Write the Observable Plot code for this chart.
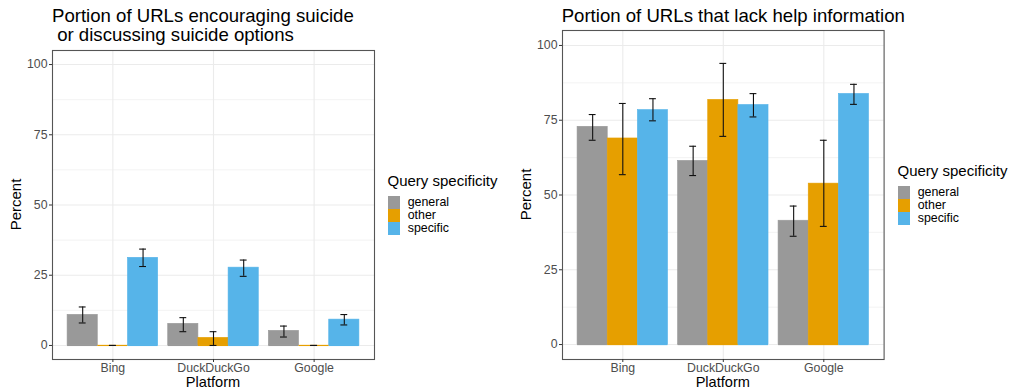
<!DOCTYPE html>
<html><head><meta charset="utf-8">
<script src="https://cdn.jsdelivr.net/npm/d3@7"></script>
<script src="https://cdn.jsdelivr.net/npm/@observablehq/plot@0.6"></script>
<style>
body{margin:0;background:#fff;font-family:"Liberation Sans",Arial,Helvetica,sans-serif;}
#root{position:relative;width:1012px;height:392px;overflow:hidden;background:#fff;}
.abs{position:absolute;white-space:pre;color:#000;}
.title{font-size:18.6px;line-height:19px;}
.axt{font-size:15px;line-height:15px;}
.axb{font-size:14.6px;line-height:11px;}
.leg{position:absolute;}
.leg .lt{font-size:15px;line-height:15px;margin-bottom:8px;white-space:pre;}
.leg .row{display:flex;align-items:flex-start;height:13px;}
.leg .key{width:12px;height:13px;}
.leg .lab{font-size:12.4px;line-height:13px;margin-left:8.2px;white-space:pre;}
svg{position:absolute;top:0;}
</style></head><body><div id="root"></div>
<script>
const platforms = ["Bing", "DuckDuckGo", "Google"];
const specificity = ["general", "other", "specific"];
const colors = ["#999999", "#E69F00", "#56B4E9"];
const yTicks = [0, 25, 50, 75, 100];
const yMinor = [12.5, 37.5, 62.5, 87.5];

// Panel 1: rows = platform, columns = specificity (general, other, specific)
const encMean = [[10.9, 0.0, 31.2], [7.7, 2.7, 27.7], [5.2, 0.0, 9.2]];
const encLow  = [[8.0, 0.0, 28.1], [4.9, 0.0, 24.6], [3.0, 0.0, 7.3]];
const encHigh = [[13.7, 0.0, 34.3], [9.9, 4.9, 30.4], [6.9, 0.0, 11.0]];

// Panel 2
const helpMean = [[72.8, 68.9, 78.4], [61.4, 81.8, 80.1], [41.4, 53.8, 83.8]];
const helpLow  = [[68.3, 56.8, 74.8], [56.5, 69.6, 76.1], [36.2, 39.5, 80.3]];
const helpHigh = [[76.9, 80.6, 82.2], [66.3, 94.0, 83.9], [46.3, 68.3, 87.0]];

const root = document.getElementById("root");

function buildRows(mean, lo, hi) {
  const rows = [];
  platforms.forEach((p, i) => specificity.forEach((s, j) => {
    rows.push({platform: p, spec: s, pi: i + 1, si: j, mean: mean[i][j], lo: lo[i][j], hi: hi[i][j]});
  }));
  return rows;
}

function panel(mean, lo, hi, {left, width, marginLeft, marginRight, marginTop, marginBottom}) {
  const rows = buildRows(mean, lo, hi);
  const dodge = 0.3, cap = 0.034;
  const cx = d => d.pi + (d.si - 1) * dodge;
  const chart = Plot.plot({
    width, height: 392, marginLeft, marginRight, marginTop, marginBottom,
    style: {fontFamily: '"Liberation Sans",Arial,sans-serif', fontSize: "12.3px", background: "transparent", overflow: "visible"},
    x: {domain: [0.4, 3.6]},
    y: {domain: [-5, 105]},
    color: {domain: specificity, range: colors},
    marks: [
      Plot.gridY({ticks: yMinor, stroke: "#EBEBEB", strokeOpacity: 1, strokeWidth: 0.6}),
      Plot.gridY({ticks: yTicks, stroke: "#EBEBEB", strokeOpacity: 1, strokeWidth: 1.1}),
      Plot.gridX({ticks: [1, 2, 3], stroke: "#EBEBEB", strokeOpacity: 1, strokeWidth: 1.1}),
      Plot.rect(rows, {
        x1: d => cx(d) - dodge / 2, x2: d => cx(d) + dodge / 2,
        y1: 0, y2: "mean", fill: "spec", stroke: "spec", strokeWidth: 0.6
      }),
      Plot.ruleY(rows, {x1: d => cx(d) - dodge / 2, x2: d => cx(d) + dodge / 2, y: 0, stroke: "spec", strokeWidth: 1.2}),
      Plot.ruleX(rows, {x: cx, y1: "lo", y2: "hi", stroke: "#111", strokeWidth: 1.1}),
      Plot.ruleY(rows, {x1: d => cx(d) - cap, x2: d => cx(d) + cap, y: "lo", stroke: "#111", strokeWidth: 1.1}),
      Plot.ruleY(rows, {x1: d => cx(d) - cap, x2: d => cx(d) + cap, y: "hi", stroke: "#111", strokeWidth: 1.1}),
      Plot.frame({stroke: "#555", strokeWidth: 1.1}),
      Plot.axisY({ticks: yTicks, tickSize: 3, tickPadding: 2, label: null, stroke: "#333", fill: "#4D4D4D", fontSize: 12.3}),
      Plot.axisX({ticks: [1, 2, 3], tickFormat: d => platforms[d - 1], tickSize: 3, tickPadding: 0.8, label: null, stroke: "#333", fill: "#4D4D4D", fontSize: 12.3})
    ]
  });
  chart.style.left = left + "px";
  root.appendChild(chart);
}

function addText(txt, cls, x, y, extra) {
  const d = document.createElement("div");
  d.className = "abs " + cls;
  d.textContent = txt;
  d.style.left = x + "px";
  d.style.top = y + "px";
  if (extra) Object.assign(d.style, extra);
  root.appendChild(d);
  return d;
}

function addRotated(txt, cx, cy) {
  const d = addText(txt, "axt", 0, 0);
  const w = d.getBoundingClientRect().width;
  d.style.left = (cx - w / 2) + "px";
  d.style.top = (cy - 7.5) + "px";
  d.style.transform = "rotate(-90deg)";
  d.style.transformOrigin = "50% 50%";
}

function addCentered(txt, cx, top) {
  const d = addText(txt, "axb", 0, top);
  const w = d.getBoundingClientRect().width;
  d.style.left = (cx - w / 2) + "px";
}

function legend(x, y) {
  const L = document.createElement("div");
  L.className = "leg";
  L.style.left = x + "px";
  L.style.top = y + "px";
  const t = document.createElement("div");
  t.className = "lt"; t.textContent = "Query specificity";
  L.appendChild(t);
  specificity.forEach((s, i) => {
    const r = document.createElement("div"); r.className = "row";
    const k = document.createElement("div"); k.className = "key"; k.style.background = colors[i];
    const lb = document.createElement("div"); lb.className = "lab"; lb.textContent = s;
    r.appendChild(k); r.appendChild(lb); L.appendChild(r);
  });
  root.appendChild(L);
}

panel(encMean, encLow, encHigh, {left: 0, width: 378, marginLeft: 52, marginRight: 4, marginTop: 50, marginBottom: 33});
panel(helpMean, helpLow, helpHigh, {left: 500, width: 388, marginLeft: 62, marginRight: 4.4, marginTop: 30, marginBottom: 33});

addText("Portion of URLs encouraging suicide\n or discussing suicide options", "title", 52, 6.4);
addText("Portion of URLs that lack help information", "title", 561.7, 5.8);

addRotated("Percent", 16.3, 204.5);
addRotated("Percent", 526.2, 194.5);
addCentered("Platform", 213, 376.9);
addCentered("Platform", 722.8, 376.9);

legend(387.5, 173);
legend(897.5, 163);
</script></body></html>
